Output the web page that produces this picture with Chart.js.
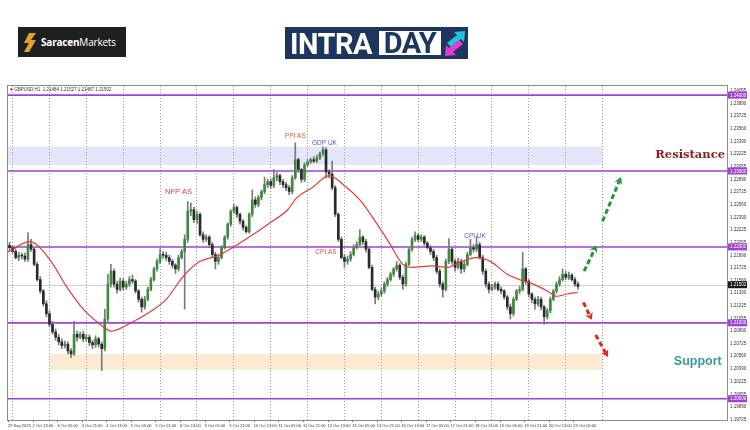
<!DOCTYPE html>
<html>
<head>
<meta charset="utf-8">
<script src="https://cdn.jsdelivr.net/npm/chart.js@4.4.0/dist/chart.umd.min.js"></script>
<style>
  body { margin: 0; background: #fff; width: 750px; height: 430px; overflow: hidden; position: relative; }
  #chart { position: absolute; left: 0; top: 0; }
  #saracen { position: absolute; left: 18px; top: 27px; width: 108px; height: 30px; background: #1f1f1f;
             display: flex; align-items: center; font-family: "Open Sans", sans-serif; font-size: 10px; color: #fff; }
  #saracen svg { margin: 0 5px 0 6px; }
  #saracen b { font-weight: 700; }
  #saracen span { letter-spacing: -0.2px; }
  #intraday { position: absolute; left: 285px; top: 27px; width: 183px; height: 32px; background: #1d3660; }
  #intraday .intra { position: absolute; left: 5px; top: 0; height: 32px; line-height: 33px; color: #fff;
                     font: 700 29px Roboto, sans-serif; letter-spacing: -0.5px; }
  #intraday .day { position: absolute; left: 94px; top: 4px; width: 62px; height: 24px; background: #fff; color: #1d3660;
                   font: 700 29px Roboto, sans-serif; line-height: 25px; text-align: center; letter-spacing: -0.5px; overflow: hidden; }
  #intraday svg { position: absolute; left: 159px; top: 3px; }
</style>
</head>
<body>
<canvas id="chart" width="750" height="430"></canvas>
<div id="saracen">
  <svg width="12" height="19" viewBox="0 0 12 19"><path d="M5 0h7L7 7h5L5 19H0l5-9H0z" fill="#e0a42a"/></svg>
  <span><b>Saracen</b>Markets</span>
</div>
<div id="intraday">
  <span class="intra">INTRA</span><span class="day">DAY</span>
  <svg width="22" height="27" viewBox="0 0 22 27">
    <polygon points="3,13 13,5 10,2 21,1 20,12 17,9 7,17" fill="#25c3d8"/>
    <polygon points="19,14 9,22 12,25 1,26 2,15 5,18 15,10" fill="#e33ccf"/>
  </svg>
</div>
<script>
// time axis labels, one every 16 H1 bars (bar 0 = 29 Sep 21:00)
const xLabels = ["29 Sep 2023", "2 Oct 13:00", "3 Oct 05:00", "3 Oct 21:00", "4 Oct 13:00", "5 Oct 05:00",
  "5 Oct 21:00", "6 Oct 13:00", "9 Oct 05:00", "9 Oct 21:00", "10 Oct 13:00", "11 Oct 05:00",
  "11 Oct 21:00", "12 Oct 13:00", "13 Oct 05:00", "13 Oct 21:00", "16 Oct 13:00", "17 Oct 05:00",
  "17 Oct 21:00", "18 Oct 13:00", "19 Oct 05:00", "19 Oct 21:00", "20 Oct 13:00", "23 Oct 05:00"];
// day separators (bar index of each 00:00)
const dayLines = [3, 27, 51, 75, 99, 123, 147, 171, 195, 219, 243, 267, 291, 315, 339, 363, 387];
const yTicks = [1.24055, 1.2389, 1.23725, 1.2356, 1.2339, 1.23225, 1.23055, 1.2289, 1.22725, 1.2256,
  1.2239, 1.22225, 1.22055, 1.2189, 1.21725, 1.2156, 1.2139, 1.21225, 1.21055, 1.2089, 1.20725,
  1.2056, 1.2039, 1.20225, 1.20055, 1.1989, 1.19725];

// GBPUSD, read as 2-hour candles
const firstOpen = 1.2202;
const closes = [
  1.2199, 1.2194, 1.2186, 1.2189, 1.2188, 1.2184, 1.2203, 1.2197, 1.2177, 1.2157,
  1.2142, 1.2125, 1.2112, 1.2098, 1.2088, 1.2081, 1.2075, 1.2070, 1.2072, 1.2063,
  1.2059, 1.2085, 1.2081, 1.2085, 1.2079, 1.2081, 1.2074, 1.2071, 1.2079, 1.2072,
  1.2066, 1.2105, 1.2151, 1.2168, 1.2151, 1.2144, 1.2155, 1.2147, 1.2151, 1.2157,
  1.2155, 1.2142, 1.2131, 1.2121, 1.2131, 1.2144, 1.2157, 1.2171, 1.2181, 1.2190,
  1.2189, 1.2186, 1.2181, 1.2176, 1.2171, 1.2186, 1.2194, 1.2210, 1.2247, 1.2249,
  1.2236, 1.2243, 1.2216, 1.2210, 1.2213, 1.2203, 1.2190, 1.2181, 1.2186, 1.2199,
  1.2213, 1.2230, 1.2247, 1.2252, 1.2243, 1.2234, 1.2226, 1.2220, 1.2243, 1.2262,
  1.2256, 1.2265, 1.2273, 1.2282, 1.2286, 1.2281, 1.2291, 1.2294, 1.2286, 1.2282,
  1.2278, 1.2273, 1.2291, 1.2315, 1.2302, 1.2289, 1.2308, 1.2312, 1.2315, 1.2313,
  1.2317, 1.2323, 1.2328, 1.2299, 1.2296, 1.2278, 1.2243, 1.2210, 1.2186, 1.2181,
  1.2184, 1.2190, 1.2199, 1.2203, 1.2213, 1.2207, 1.2197, 1.2173, 1.2144, 1.2134,
  1.2138, 1.2142, 1.2151, 1.2157, 1.2164, 1.2171, 1.2176, 1.2160, 1.2151, 1.2177,
  1.2197, 1.2210, 1.2215, 1.2210, 1.2213, 1.2205, 1.2199, 1.2194, 1.2186, 1.2168,
  1.2151, 1.2144, 1.2181, 1.2197, 1.2181, 1.2173, 1.2181, 1.2171, 1.2177, 1.2190,
  1.2199, 1.2197, 1.2203, 1.2186, 1.2168, 1.2151, 1.2144, 1.2147, 1.2151, 1.2144,
  1.2142, 1.2134, 1.2121, 1.2112, 1.2131, 1.2142, 1.2144, 1.2171, 1.2155, 1.2138,
  1.2131, 1.2125, 1.2131, 1.2121, 1.2108, 1.2116, 1.2131, 1.2142, 1.2151, 1.2157,
  1.2164, 1.2160, 1.2163, 1.2157, 1.2151, 1.2148
];
const highs = [
  1.2206, 1.2202, 1.2197, 1.2193, 1.2192, 1.2192, 1.2219, 1.2210, 1.2199, 1.2180,
  1.2161, 1.2144, 1.2129, 1.2116, 1.2102, 1.2092, 1.2085, 1.2079, 1.2076, 1.2075,
  1.2066, 1.2102, 1.2089, 1.2088, 1.2089, 1.2085, 1.2084, 1.2077, 1.2083, 1.2081,
  1.2075, 1.2118, 1.2164, 1.2177, 1.2171, 1.2155, 1.2159, 1.2159, 1.2155, 1.2161,
  1.2163, 1.2157, 1.2144, 1.2134, 1.2135, 1.2147, 1.2160, 1.2173, 1.2184, 1.2197,
  1.2194, 1.2193, 1.2189, 1.2184, 1.2178, 1.2189, 1.2197, 1.2216, 1.2260, 1.2258,
  1.2252, 1.2247, 1.2245, 1.2220, 1.2216, 1.2215, 1.2206, 1.2193, 1.2190, 1.2202,
  1.2215, 1.2232, 1.2249, 1.2256, 1.2254, 1.2245, 1.2236, 1.2228, 1.2245, 1.2275,
  1.2266, 1.2268, 1.2275, 1.2292, 1.2289, 1.2290, 1.2302, 1.2298, 1.2296, 1.2289,
  1.2285, 1.2281, 1.2294, 1.2337, 1.2317, 1.2304, 1.2311, 1.2315, 1.2317, 1.2319,
  1.2321, 1.2325, 1.2332, 1.2331, 1.2302, 1.2313, 1.2281, 1.2245, 1.2213, 1.2190,
  1.2188, 1.2194, 1.2203, 1.2207, 1.2223, 1.2215, 1.2210, 1.2199, 1.2176, 1.2147,
  1.2142, 1.2146, 1.2154, 1.2160, 1.2167, 1.2173, 1.2181, 1.2178, 1.2163, 1.2180,
  1.2199, 1.2213, 1.2220, 1.2218, 1.2216, 1.2215, 1.2207, 1.2202, 1.2197, 1.2189,
  1.2171, 1.2154, 1.2184, 1.2211, 1.2199, 1.2184, 1.2185, 1.2184, 1.2181, 1.2193,
  1.2210, 1.2203, 1.2214, 1.2206, 1.2189, 1.2171, 1.2154, 1.2151, 1.2154, 1.2154,
  1.2147, 1.2144, 1.2136, 1.2125, 1.2134, 1.2144, 1.2148, 1.2193, 1.2173, 1.2157,
  1.2140, 1.2134, 1.2135, 1.2134, 1.2123, 1.2119, 1.2134, 1.2144, 1.2154, 1.2161,
  1.2171, 1.2168, 1.2167, 1.2165, 1.2160, 1.2154
];
const lows = [
  1.2195, 1.2192, 1.2184, 1.2182, 1.2184, 1.2181, 1.2181, 1.2194, 1.2175, 1.2155,
  1.2139, 1.2122, 1.2108, 1.2095, 1.2085, 1.2077, 1.2071, 1.2066, 1.2067, 1.2059,
  1.2054, 1.2057, 1.2076, 1.2079, 1.2075, 1.2076, 1.2070, 1.2066, 1.2068, 1.2068,
  1.2037, 1.2063, 1.2102, 1.2147, 1.2147, 1.2139, 1.2142, 1.2143, 1.2144, 1.2148,
  1.2152, 1.2139, 1.2127, 1.2114, 1.2118, 1.2129, 1.2142, 1.2155, 1.2168, 1.2178,
  1.2185, 1.2182, 1.2177, 1.2172, 1.2165, 1.2168, 1.2184, 1.2118, 1.2206, 1.2241,
  1.2232, 1.2231, 1.2214, 1.2206, 1.2207, 1.2199, 1.2186, 1.2171, 1.2177, 1.2184,
  1.2197, 1.2210, 1.2227, 1.2244, 1.2239, 1.2230, 1.2222, 1.2218, 1.2218, 1.2240,
  1.2252, 1.2253, 1.2262, 1.2270, 1.2278, 1.2277, 1.2278, 1.2287, 1.2282, 1.2278,
  1.2274, 1.2269, 1.2270, 1.2289, 1.2298, 1.2285, 1.2286, 1.2306, 1.2310, 1.2311,
  1.2311, 1.2315, 1.2320, 1.2291, 1.2291, 1.2275, 1.2240, 1.2207, 1.2184, 1.2173,
  1.2177, 1.2181, 1.2188, 1.2197, 1.2201, 1.2203, 1.2193, 1.2171, 1.2142, 1.2125,
  1.2130, 1.2135, 1.2139, 1.2148, 1.2155, 1.2161, 1.2168, 1.2157, 1.2144, 1.2148,
  1.2175, 1.2194, 1.2207, 1.2207, 1.2207, 1.2202, 1.2197, 1.2190, 1.2182, 1.2165,
  1.2147, 1.2134, 1.2142, 1.2178, 1.2177, 1.2168, 1.2171, 1.2165, 1.2167, 1.2175,
  1.2188, 1.2193, 1.2194, 1.2184, 1.2164, 1.2147, 1.2139, 1.2142, 1.2144, 1.2142,
  1.2138, 1.2131, 1.2117, 1.2105, 1.2109, 1.2129, 1.2138, 1.2142, 1.2151, 1.2134,
  1.2127, 1.2118, 1.2122, 1.2117, 1.2098, 1.2105, 1.2113, 1.2129, 1.2139, 1.2148,
  1.2155, 1.2157, 1.2157, 1.2155, 1.2148, 1.2144
];

// moving average (red), read at these H1 bars
const maBars = [0, 14, 27, 38, 49, 60, 67, 81, 92, 103, 114, 125, 136, 146, 157, 170, 182, 188, 198, 209,
  220, 229, 237, 248, 257, 263, 276, 286, 294, 305, 314, 325, 333, 342, 351, 357, 364, 371];
const maValues = [1.2193, 1.2207, 1.2184, 1.2148, 1.2118, 1.2098, 1.2089, 1.2101, 1.2114, 1.2131,
  1.2161, 1.2181, 1.2188, 1.2199, 1.2213, 1.2231, 1.2249, 1.2265, 1.2278, 1.2294,
  1.2279, 1.2262, 1.2240, 1.2206, 1.2177, 1.2173, 1.2175, 1.2173, 1.2180, 1.2186,
  1.2181, 1.2164, 1.2157, 1.2151, 1.2142, 1.2135, 1.2138, 1.2140];

const levels = [1.24, 1.23, 1.22, 1.21, 1.20];
const lastPrice = 1.21502;
const zones = [
  { from: 0, to: 387, low: 1.2308, high: 1.2332, color: "#e3e5f8" },
  { from: 27, to: 387, low: 1.2038, high: 1.2059, color: "#fdebd3" }
];
const events = [
  { text: "PPI AS", bar: 187, price: 1.2346, color: "#e0524c", font: "6.5px 'Liberation Sans'" },
  { text: "GDP UK", bar: 206, price: 1.2337, color: "#5555cc", font: "6.5px 'Liberation Sans'" },
  { text: "NFP AS", bar: 111, price: 1.2273, color: "#d93b3b", font: "7.5px 'Liberation Sans'" },
  { text: "CPI AS", bar: 207, price: 1.2193, color: "#e0524c", font: "6.5px 'Liberation Sans'" },
  { text: "CPI UK", bar: 304, price: 1.2214, color: "#5555cc", font: "6.5px 'Liberation Sans'" },
  { text: "Resistance", bar: 444, price: 1.2321, color: "#8e1b1b", font: "bold 11.5px 'DejaVu Serif'" },
  { text: "Support", bar: 449, price: 1.2049, color: "#3b9a96", font: "bold 12.5px 'Liberation Sans'" }
];
const arrows = [
  { from: [387, 1.2234], to: [399, 1.2292], color: "#1f9a2e" },
  { from: [375, 1.2168], to: [383, 1.2202], color: "#1f9a2e" },
  { from: [374.5, 1.2127], to: [380, 1.2104], color: "#e3261f" },
  { from: [382.5, 1.2084], to: [390.5, 1.2055], color: "#e3261f" }
];

const candles = closes.map((c, k) => {
  const o = k === 0 ? firstOpen : closes[k - 1];
  return { x: 2 * k + 1, o, c, h: Math.max(highs[k], o, c), l: Math.min(lows[k], o, c) };
});
const BULL = "#3d8a3d", BEAR = "#2a2a2a";

function dashedArrow(ctx, x0, y0, x1, y1, color) {
  const ang = Math.atan2(y1 - y0, x1 - x0);
  const head = 8;
  const nx = x1 - Math.cos(ang) * head * 0.6, ny = y1 - Math.sin(ang) * head * 0.6;
  ctx.strokeStyle = color;
  ctx.lineWidth = 3;
  ctx.setLineDash([5, 3]);
  ctx.beginPath();
  ctx.moveTo(x0, y0);
  ctx.lineTo(nx, ny);
  ctx.stroke();
  ctx.setLineDash([]);
  ctx.fillStyle = color;
  ctx.beginPath();
  ctx.moveTo(x1, y1);
  ctx.lineTo(x1 - head * Math.cos(ang - 0.55), y1 - head * Math.sin(ang - 0.55));
  ctx.lineTo(nx, ny);
  ctx.lineTo(x1 - head * Math.cos(ang + 0.55), y1 - head * Math.sin(ang + 0.55));
  ctx.closePath();
  ctx.fill();
}

const overlay = {
  id: "overlay",
  beforeDraw(chart) {
    const { ctx, chartArea: a, scales: { x, y } } = chart;
    ctx.save();
    zones.forEach(z => {
      const x0 = Math.max(a.left, x.getPixelForValue(z.from)), x1 = x.getPixelForValue(z.to);
      const y0 = y.getPixelForValue(z.high), y1 = y.getPixelForValue(z.low);
      ctx.fillStyle = z.color;
      ctx.fillRect(x0, y0, x1 - x0, y1 - y0);
    });
    ctx.restore();
  },
  beforeDatasetsDraw(chart) {
    const { ctx, chartArea: a, scales: { y } } = chart;
    ctx.save();
    const py = Math.round(y.getPixelForValue(lastPrice)) + 0.5;
    ctx.strokeStyle = "#cfcfcf";
    ctx.lineWidth = 1;
    ctx.beginPath(); ctx.moveTo(a.left, py); ctx.lineTo(a.right, py); ctx.stroke();
    ctx.strokeStyle = "#a140d4";
    ctx.lineWidth = 1.6;
    levels.forEach(v => {
      const ly = y.getPixelForValue(v);
      ctx.beginPath(); ctx.moveTo(a.left, ly); ctx.lineTo(a.right, ly); ctx.stroke();
    });
    ctx.restore();
  },
  afterDatasetsDraw(chart) {
    const { ctx, scales: { x, y } } = chart;
    ctx.save();
    arrows.forEach(r => dashedArrow(ctx, x.getPixelForValue(r.from[0]), y.getPixelForValue(r.from[1]),
      x.getPixelForValue(r.to[0]), y.getPixelForValue(r.to[1]), r.color));
    ctx.textAlign = "center";
    ctx.textBaseline = "middle";
    events.forEach(e => {
      ctx.font = e.font;
      ctx.fillStyle = e.color;
      ctx.fillText(e.text, x.getPixelForValue(e.bar), y.getPixelForValue(e.price));
    });
    ctx.restore();
  },
  afterDraw(chart) {
    const { ctx, chartArea: a, scales: { x, y } } = chart;
    ctx.save();
    ctx.strokeStyle = "#8c8c8c";
    ctx.lineWidth = 1;
    ctx.strokeRect(a.left - 0.5, a.top - 0.5, a.width + 1, a.height + 1);
    // small tick marks under the time labels
    ctx.strokeStyle = "#777";
    xLabels.forEach((_, i) => {
      const tx = Math.round(x.getPixelForValue(i * 16)) + 0.5;
      ctx.beginPath(); ctx.moveTo(tx, a.bottom); ctx.lineTo(tx, a.bottom + 2); ctx.stroke();
    });
    ctx.font = "4.5px 'Liberation Sans'";
    ctx.textBaseline = "middle";
    ctx.textAlign = "left";
    ctx.fillStyle = "#333";
    ctx.fillText("\u25BE GBPUSD,H1  1.21484 1.21527 1.21487 1.21502", a.left + 2, a.top + 4);
    const tag = (v, bg) => {
      const ty = y.getPixelForValue(v);
      ctx.fillStyle = bg;
      ctx.fillRect(a.right + 1, ty - 3.5, 19, 7);
      ctx.fillStyle = "#fff";
      ctx.fillText(v.toFixed(5), a.right + 3, ty + 0.3);
    };
    levels.forEach(v => tag(v, "#a140d4"));
    tag(lastPrice, "#1a1a1a");
    ctx.restore();
  }
};

new Chart(document.getElementById("chart"), {
  type: "bar",
  data: {
    datasets: [
      {
        type: "line",
        data: maBars.map((b, i) => ({ x: b, y: maValues[i] })),
        borderColor: "#e23a3a",
        borderWidth: 1.2,
        pointRadius: 0,
        cubicInterpolationMode: "monotone",
        order: 0
      },
      {
        data: candles.map(c => ({ x: c.x, y: [c.o, c.c] })),
        backgroundColor: ctx => (candles[ctx.dataIndex].c >= candles[ctx.dataIndex].o ? BULL : BEAR),
        barThickness: 2,
        minBarLength: 1,
        grouped: false,
        order: 1
      },
      {
        data: candles.map(c => ({ x: c.x, y: [c.l, c.h] })),
        backgroundColor: "#7a7a7a",
        barThickness: 1,
        grouped: false,
        order: 2
      }
    ]
  },
  options: {
    responsive: false,
    animation: false,
    layout: { padding: { left: 8, top: 86, right: 0, bottom: 0 } },
    plugins: { legend: { display: false }, tooltip: { enabled: false } },
    scales: {
      x: {
        type: "linear", min: 0, max: 468, offset: false, position: "bottom",
        afterBuildTicks: s => { s.ticks = xLabels.map((_, i) => ({ value: i * 16 })); },
        afterFit: s => { s.height = 10; },
        grid: { display: false, drawTicks: false },
        border: { display: false },
        ticks: {
          autoSkip: false, maxRotation: 0, align: "start", padding: 3, color: "#333",
          font: { family: "'Liberation Sans'", size: 4 },
          callback: (v, i) => xLabels[i]
        }
      },
      xg: {
        type: "linear", min: 0, max: 468, offset: false, position: "top",
        afterBuildTicks: s => { s.ticks = dayLines.map(v => ({ value: v })); },
        afterFit: s => { s.height = 0; },
        ticks: { display: false },
        grid: { color: "#9c9c9c", lineWidth: 1, drawTicks: false, offset: false },
        border: { display: false, dash: [1, 2] }
      },
      y: {
        type: "linear", position: "right", min: 1.1972, max: 1.2412,
        afterBuildTicks: s => { s.ticks = yTicks.map(v => ({ value: v })); },
        afterFit: s => { s.width = 23; },
        grid: { display: false, drawTicks: false },
        border: { display: false },
        ticks: {
          padding: 3, color: "#333",
          font: { family: "'Liberation Sans'", size: 4.5 },
          callback: v => v.toFixed(5)
        }
      }
    }
  },
  plugins: [overlay]
});
</script>
</body>
</html>
